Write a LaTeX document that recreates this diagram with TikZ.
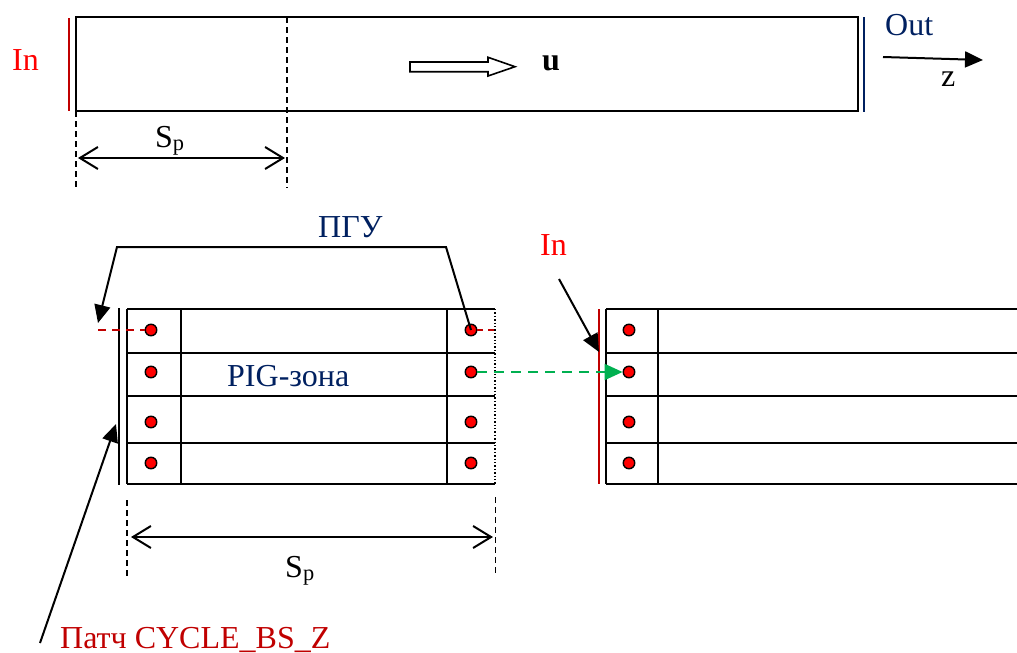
\documentclass[tikz,border=0pt]{standalone}
\usepackage{fontspec}
\setmainfont{Liberation Serif}
\usetikzlibrary{arrows.meta}
\definecolor{inred}{HTML}{FF0000}
\definecolor{darkred}{HTML}{C00000}
\definecolor{navy}{HTML}{002060}
\definecolor{grn}{HTML}{00B050}
\begin{document}
\begin{tikzpicture}[x=1pt,y=-1pt,line join=miter,
  lbl/.style={inner sep=0pt,anchor=base west,font=\fontsize{32}{36}\selectfont},
  ln/.style={line width=2pt},
  dimdash/.style={line width=1.5pt,dash pattern=on 6pt off 4pt},
  dimarrow/.style={line width=2pt,{Straight Barb[length=18pt,width=22pt]}-{Straight Barb[length=18pt,width=22pt]}},
  ptr/.style={line width=2pt,-{Triangle[length=18pt,width=16pt]}},
  dot/.style={circle,fill=inred,draw=black,line width=1.4pt,minimum size=11.5pt,inner sep=0pt},
  redwall/.style={darkred,line width=2.2pt},
]
\useasboundingbox (0,0) rectangle (1017,653);

% ---------- top channel ----------
\draw[ln] (76,17) rectangle (858,111);
\draw[redwall] (69,18) -- (69,111);
\draw[navy,line width=2.2pt] (864,17) -- (864,112);
\node[lbl,text=inred] (intop) at (12,70) {In};
\node[lbl,text=navy] (out) at (885,35) {Out};
\coordinate (zs) at (883,57);
\coordinate (ze) at (983,60);
\draw[ptr] (zs) -- (ze);
\node[lbl] (zlab) at (941,86) {z};
% flow arrow
\draw[line width=1.6pt] (410,62) -- (488,62) -- (488,57.3) -- (515,66.7) -- (488,76) -- (488,71.7) -- (410,71.7) -- cycle;
\node[lbl] (ulab) at (542,70) {\textbf{u}};
% top dimension
\draw[dimdash] (76,111) -- (76,188);
\draw[dimdash] (287,17) -- (287,188);
\coordinate (spa) at (78,158);
\coordinate (spb) at (285,158);
\draw[dimarrow] (spa) -- (spb);
\node[lbl] (sptop) at (155,147) {S\textsubscript{p}};

% ---------- bottom left grid ----------
\foreach \y in {309,353,396,443,484} \draw[ln] (127,\y) -- (495,\y);
\foreach \x in {127,181,447} \draw[ln] (\x,309) -- (\x,484);
\draw[line width=1.4pt,dash pattern=on 1.4pt off 2pt] (495,309) -- (495,484);
\draw[line width=2pt] (119,308) -- (119,485);
\node[dot] (L1) at (151,330) {};
\node[dot] (L2) at (151,372) {};
\node[dot] (L3) at (151,422) {};
\node[dot] (L4) at (151,463) {};
\node[dot] (R1) at (471,330) {};
\node[dot] (R2) at (471,372) {};
\node[dot] (R3) at (471,422) {};
\node[dot] (R4) at (471,463) {};
\coordinate (ghostL) at (98,330);
\coordinate (ghostR) at (495,330);
\draw[darkred,line width=1.8pt,dash pattern=on 8pt off 6pt] (ghostL) -- (L1);
\draw[darkred,line width=1.8pt,dash pattern=on 6pt off 5pt] (R1) -- (ghostR);
\node[lbl,text=navy] (pig) at (227,386) {PIG-зона};
\node[lbl,text=navy] (pgu) at (318,237) {ПГУ};
\coordinate (brR) at (446,247);
\coordinate (brL) at (117,247);
\coordinate (brTip) at (98,323);
\draw[ptr] (R1.center) -- (brR) -- (brL) -- (brTip);

% ---------- bottom right grid ----------
\foreach \y in {309,353,396,443,484} \draw[ln] (606,\y) -- (1017,\y);
\foreach \x in {606,658} \draw[ln] (\x,309) -- (\x,484);
\draw[redwall] (599,309) -- (599,484);
\node[dot] (Q1) at (629,330) {};
\node[dot] (Q2) at (629,372) {};
\node[dot] (Q3) at (629,422) {};
\node[dot] (Q4) at (629,463) {};
\draw[grn,line width=2pt,dash pattern=on 10pt off 7pt,-{Triangle[length=18pt,width=16pt]}] (R2) -- (Q2);
\node[lbl,text=inred] (inbot) at (540,255) {In};
\coordinate (ina) at (559,279);
\coordinate (inb) at (599,352);
\draw[ptr] (ina) -- (inb);

% ---------- bottom dimension ----------
\draw[dimdash] (127,500) -- (127,578);
\draw[dimdash] (495.5,497) -- (495.5,573);
\coordinate (spc) at (131,537);
\coordinate (spd) at (493,537);
\draw[dimarrow] (spc) -- (spd);
\node[lbl] (spbot) at (285,577) {S\textsubscript{p}};

% ---------- patch label ----------
\coordinate (pa) at (40,643);
\coordinate (pb) at (116,424);
\draw[ptr] (pa) -- (pb);
\node[lbl,text=darkred] (patch) at (60,648) {Патч CYCLE\_BS\_Z};
\end{tikzpicture}
\end{document}
